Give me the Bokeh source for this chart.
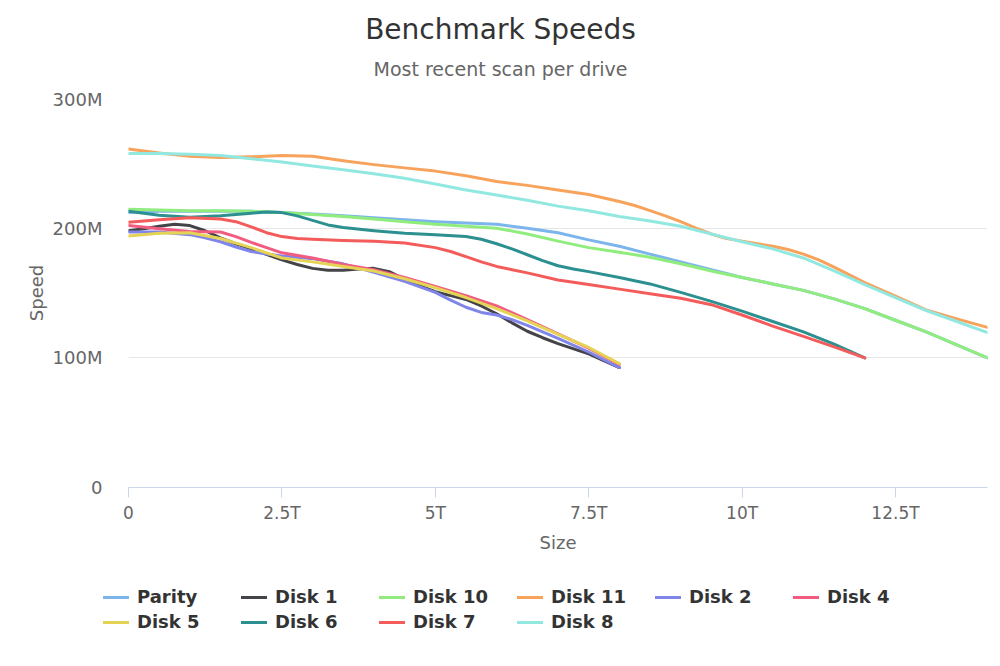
from bokeh.plotting import figure
from bokeh.layouts import column
from bokeh.models import Legend, LegendItem, FixedTicker, Label
from bokeh.embed import file_html
from bokeh.resources import INLINE

FONT = "DejaVu Sans"
NAN = float("nan")

# Axis ticks and their labels
x_ticks = [0, 2.5, 5, 7.5, 10, 12.5]
x_tick_labels = ["0", "2.5T", "5T", "7.5T", "10T", "12.5T"]
y_ticks = [0, 100, 200, 300]
y_tick_labels = ["0", "100M", "200M", "300M"]

# Benchmark curves: position on the drive (TB) vs read speed (MB/s)
parity_size = [0, 0.5, 1, 1.5, 2, 2.5, 3, 3.5, 4, 4.5, 5, 5.5, 6, 6.5, 7, 7.5, 8, 8.5, 9, 9.5, 10, 10.5, 11, 11.5, 12, 12.5, 13, 13.5, 14]
parity_speed = [212, 213, 213, 213, 213, 212, 211, 209.5, 208, 206.5, 205, 204, 203, 200, 196.5, 191, 186, 180, 174, 168, 162, 157, 152, 145.5, 138, 129, 120, 110, 100]

disk1_size = [0, 0.25, 0.5, 0.75, 1, 1.25, 1.5, 1.75, 2, 2.5, 2.75, 3, 3.25, 3.5, 3.75, 4, 4.25, 4.5, 4.75, 5, 5.25, 5.5, 5.75, 6, 6.25, 6.5, 6.75, 7, 7.5, 8]
disk1_speed = [198, 199.5, 201.5, 203, 202, 198, 192.5, 188, 184, 175.5, 172, 169, 167.5, 167.5, 168.5, 169, 166.5, 160.5, 155.5, 151, 148, 145, 140, 134, 127, 120.5, 115.5, 111, 103, 92.5]

disk10_size = [0, 0.5, 1, 1.5, 2, 2.5, 3, 3.5, 4, 4.5, 5, 5.5, 6, 6.5, 7, 7.5, 8, 8.5, 9, 9.5, 10, 10.5, 11, 11.5, 12, 12.5, 13, 13.5, 14]
disk10_speed = [214.5, 214, 213.5, 213.5, 213, 212, 210.5, 209, 207, 205, 203, 201.5, 200, 195.5, 190, 185, 181.5, 177.5, 172.5, 167, 162, 157, 152, 145.5, 138, 129, 120, 110, 100]

disk11_size = [0, 0.5, 1, 1.5, 2, 2.5, 3, 3.5, 4, 4.5, 5, 5.5, 6, 6.5, 7, 7.5, 8, 8.25, 8.5, 8.75, 9, 9.25, 9.5, 9.75, 10, 10.5, 10.75, 11, 11.25, 11.5, 12, 12.5, 13, 13.5, 14]
disk11_speed = [261, 258, 255.5, 254.5, 255, 256, 255.5, 252, 249, 246.5, 244, 240.5, 236, 233, 229.5, 226, 220.5, 217.5, 213.5, 209.5, 205, 200, 195.5, 192, 190, 186, 183.5, 180, 175.5, 170, 158, 147.5, 137, 130, 123.5]

disk2_size = [0, 0.5, 1, 1.25, 1.5, 1.75, 2, 2.25, 2.5, 3, 3.5, 4, 4.5, 5, 5.25, 5.5, 5.75, 6, 6.25, 6.5, 7, 7.5, 8]
disk2_speed = [197, 197, 195, 192.5, 189.5, 185.5, 182, 180, 178.5, 176.5, 172.5, 166, 159, 150.5, 144.5, 139, 135, 133, 129.5, 125, 115, 104.5, 92.5]

disk4_size = [0, 0.5, 1, 1.5, 1.75, 2, 2.25, 2.5, 3, 3.5, 4, 4.5, 5, 5.5, 6, 6.5, 7, 7.5, 8]
disk4_speed = [202, 199.5, 197.5, 197, 193.5, 189, 185, 181, 177, 172, 168, 162, 155, 148, 140, 129.5, 118.5, 107.5, 95]

disk5_size = [0, 0.5, 1, 1.5, 2, 2.5, 3, 3.5, 4, 4.5, 5, 5.5, 6, 6.5, 7, 7.5, 8]
disk5_speed = [194, 196, 196.5, 192, 185, 177, 174, 170.5, 167, 161, 154, 146.5, 138, 128.5, 118, 108, 95.5]

disk6_size = [0, 0.25, 0.5, 1, 1.5, 2, 2.25, 2.5, 2.75, 3, 3.25, 3.5, 4, 4.5, 5, 5.5, 5.75, 6, 6.25, 6.5, 6.75, 7, 7.25, 7.5, 8, 8.5, 9, 9.5, 10, 10.5, 11, 11.5, 12]
disk6_speed = [213, 211.5, 210, 208.5, 209.5, 211.5, 212.5, 212, 209.5, 206, 202.5, 200.5, 198, 196, 195, 193.5, 191.5, 188, 184, 179.5, 175, 171, 168.5, 166.5, 162, 157, 150.5, 143.5, 136, 128, 120, 110.5, 100]

disk7_size = [0, 0.5, 1, 1.5, 1.75, 2, 2.25, 2.5, 2.75, 3, 3.5, 4, 4.5, 5, 5.25, 5.5, 5.75, 6, 6.25, 6.5, 7, 7.5, 8, 8.5, 9, 9.5, 10, 10.5, 11, 11.5, 12]
disk7_speed = [204.5, 206.5, 208, 207, 205, 201, 196.5, 193.5, 192, 191.5, 190.5, 190, 188.5, 185, 182, 178, 174, 170.5, 168, 165.5, 160, 156.5, 153, 149.5, 146, 141, 133, 124.5, 116.5, 108.5, 100]

disk8_size = [0, 0.5, 1, 1.5, 2, 2.5, 3, 3.5, 4, 4.5, 5, 5.5, 6, 6.5, 7, 7.5, 8, 8.5, 9, 9.5, 10, 10.5, 11, 11.5, 12, 12.5, 13, 13.5, 14]
disk8_speed = [257.5, 257.5, 257, 256, 253.5, 251, 248, 245, 242, 238.5, 234, 229.5, 225.5, 221.5, 217, 213.5, 209, 205.5, 201.5, 195.5, 189.5, 184, 177, 167, 156.5, 146.5, 136.5, 128, 119.5]

series = [
    ("Parity", parity_size, parity_speed, "#7cb5ec"),
    ("Disk 1", disk1_size, disk1_speed, "#434348"),
    ("Disk 10", disk10_size, disk10_speed, "#90ed7d"),
    ("Disk 11", disk11_size, disk11_speed, "#f7a35c"),
    ("Disk 2", disk2_size, disk2_speed, "#8085e9"),
    ("Disk 4", disk4_size, disk4_speed, "#f15c80"),
    ("Disk 5", disk5_size, disk5_speed, "#e4d354"),
    ("Disk 6", disk6_size, disk6_speed, "#2b908f"),
    ("Disk 7", disk7_size, disk7_speed, "#f45b5b"),
    ("Disk 8", disk8_size, disk8_speed, "#91e8e1"),
]

LINE_W = 3


def blank_strip(height):
    """A full-width figure with no axes whose frame covers the whole canvas."""
    f = figure(
        width=1000, height=height, x_range=(0, 1), y_range=(0, 1),
        output_backend="svg", toolbar_location=None, title=None,
        x_axis_type=None, y_axis_type=None,
        min_border_left=0, min_border_right=0, min_border_top=0, min_border_bottom=0,
    )
    f.frame_align = False
    f.outline_line_color = None
    f.xgrid.grid_line_color = None
    f.ygrid.grid_line_color = None
    return f


# Header with title and subtitle
header = blank_strip(88)
header.add_layout(Label(x=500, y=59, x_units="screen", y_units="screen",
                        text="Benchmark Speeds", text_align="center", text_baseline="middle",
                        text_font=FONT, text_font_size="28px", text_color="#333333"))
header.add_layout(Label(x=500, y=20, x_units="screen", y_units="screen",
                        text="Most recent scan per drive", text_align="center", text_baseline="middle",
                        text_font=FONT, text_font_size="19px", text_color="#666666"))

# Main chart
p = figure(
    width=1000, height=467,
    x_range=(0, 14), y_range=(0, 300),
    output_backend="svg", toolbar_location=None, title=None,
    min_border_left=128, min_border_right=13,
    min_border_top=10, min_border_bottom=68,
)
p.frame_align = False
p.outline_line_color = None
p.background_fill_color = "white"
p.border_fill_color = "white"

for name, xs, ys, color in series:
    p.line(xs, ys, line_color=color, line_width=LINE_W,
           line_join="round", line_cap="round")

p.xgrid.grid_line_color = None
p.ygrid.grid_line_color = "#e6e6e6"
p.ygrid.grid_line_width = 1

p.xaxis.ticker = FixedTicker(ticks=x_ticks)
p.xaxis.major_label_overrides = dict(zip(x_ticks, x_tick_labels))
p.xaxis.axis_line_color = "#ccd6eb"
p.xaxis.major_tick_line_color = "#ccd6eb"
p.xaxis.major_tick_out = 10
p.xaxis.major_tick_in = 0
p.xaxis.minor_tick_line_color = None
p.xaxis.major_label_standoff = 5
p.xaxis.major_label_text_font = FONT
p.xaxis.major_label_text_font_size = "17px"
p.xaxis.major_label_text_color = "#666666"
p.xaxis.axis_label = "Size"
p.xaxis.axis_label_text_font = FONT
p.xaxis.axis_label_text_font_size = "18px"
p.xaxis.axis_label_text_font_style = "normal"
p.xaxis.axis_label_text_color = "#666666"
p.xaxis.axis_label_standoff = 6

p.yaxis.ticker = FixedTicker(ticks=y_ticks)
p.yaxis.major_label_overrides = dict(zip(y_ticks, y_tick_labels))
p.yaxis.axis_line_color = None
p.yaxis.major_tick_line_color = None
p.yaxis.major_tick_out = 0
p.yaxis.major_tick_in = 0
p.yaxis.minor_tick_line_color = None
p.yaxis.minor_tick_out = 0
p.yaxis.major_label_standoff = 26
p.yaxis.major_label_text_font = FONT
p.yaxis.major_label_text_font_size = "18px"
p.yaxis.major_label_text_color = "#666666"
p.yaxis.axis_label = "Speed"
p.yaxis.axis_label_text_font = FONT
p.yaxis.axis_label_text_font_size = "18px"
p.yaxis.axis_label_text_font_style = "normal"
p.yaxis.axis_label_text_color = "#666666"
p.yaxis.axis_label_standoff = 3

# Legend strip under the chart: two rows of six keys
leg_fig = blank_strip(111)
items = []
for name, xs, ys, color in series:
    key = leg_fig.line([NAN], [NAN], line_color=color, line_width=LINE_W,
                       line_join="round", line_cap="round")
    items.append(LegendItem(label=name, renderers=[key]))

legend = Legend(
    items=items, ncols=6, orientation="horizontal",
    location=(103, 34),
    label_text_font=FONT, label_text_font_size="18px", label_text_font_style="bold",
    label_text_color="#333333",
    glyph_width=26, glyph_height=20, label_standoff=8, label_width=100, label_height=20,
    spacing=4, padding=0, margin=0,
    border_line_color=None, background_fill_alpha=0,
)
leg_fig.add_layout(legend, "center")

layout = column(header, p, leg_fig, spacing=0)
open("out.html", "w").write(file_html(layout, INLINE))
